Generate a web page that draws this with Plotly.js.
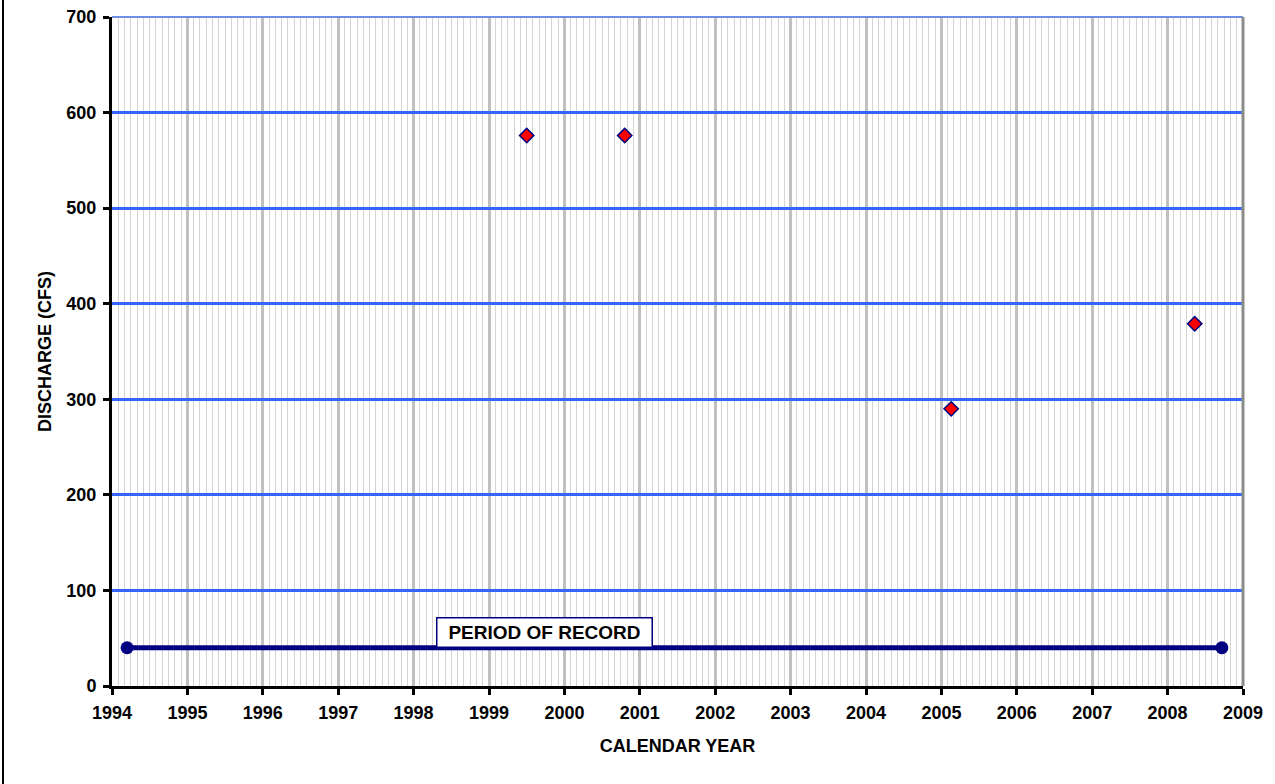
<!DOCTYPE html>
<html>
<head>
<meta charset="utf-8">
<script src="https://cdn.plot.ly/plotly-3.0.1.min.js"></script>
<style>
  html, body { margin: 0; padding: 0; background: #fff; }
  #chart { width: 1275px; height: 784px; }
</style>
</head>
<body>
<div id="chart"></div>
<script>
// Measured discharge samples
const sampleYears = [1999.50, 2000.80, 2005.13, 2008.36];
const discharge = [576, 576, 290, 379];

// Period of record
const periodYears = [1994.2, 2008.72];
const periodLevel = [40, 40];
const periodLabel = 'PERIOD OF RECORD';
const periodLabelPos = [1999.74, 55.5];

// Axes
const xRange = [1994, 2009];
const yRange = [0, 700];
const xTitle = 'CALENDAR YEAR';
const yTitle = 'DISCHARGE (CFS)';

const font = 'Arial, "Liberation Sans", sans-serif';

const traces = [
  {
    x: periodYears, y: periodLevel,
    mode: 'lines+markers', type: 'scatter',
    line: { color: '#000080', width: 5 },
    marker: { color: '#000080', size: 13, symbol: 'circle' },
    hoverinfo: 'skip', cliponaxis: false
  },
  {
    x: sampleYears, y: discharge,
    mode: 'markers', type: 'scatter',
    marker: { color: '#ff0000', size: 11, symbol: 'diamond',
              line: { color: '#000080', width: 1.5 } },
    cliponaxis: false
  }
];

const plotL = 112, plotR = 1243, plotT = 17, plotB = 686;
const pw = plotR - plotL, ph = plotB - plotT;

const layout = {
  width: 1275, height: 784,
  margin: { l: plotL, r: 1275 - plotR, t: plotT, b: 784 - plotB },
  paper_bgcolor: '#ffffff', plot_bgcolor: '#ffffff',
  showlegend: false,
  font: { family: font, color: '#000000' },
  xaxis: {
    range: xRange, dtick: 1, tick0: 1994,
    showgrid: true, gridcolor: '#c0c0c0', gridwidth: 3,
    minor: { dtick: 1 / 12, showgrid: true, gridcolor: '#d4d4d4', gridwidth: 1, ticks: '' },
    showline: true, linecolor: '#000000', linewidth: 3,
    ticks: 'outside', ticklen: 6, tickwidth: 3, tickcolor: '#000000',
    tickfont: { family: font, size: 18, color: '#000000', weight: 'bold' },
    ticklabelstandoff: 2,
    zeroline: false,
    title: { text: xTitle, font: { family: font, size: 18, weight: 'bold' }, standoff: 18 }
  },
  yaxis: {
    range: yRange, dtick: 100, tick0: 0,
    showgrid: true, gridcolor: '#3366ff', gridwidth: 3,
    showline: true, linecolor: '#000000', linewidth: 3,
    ticks: 'outside', ticklen: 6, tickwidth: 3, tickcolor: '#000000',
    tickfont: { family: font, size: 18, color: '#000000', weight: 'bold' },
    ticklabelstandoff: 3,
    zeroline: false,
    title: { text: yTitle, font: { family: font, size: 18, weight: 'bold' }, standoff: 11 }
  },
  shapes: [
    { type: 'line', xref: 'paper', yref: 'paper', x0: 0, x1: 1, y0: 1, y1: 1,
      line: { color: '#6f8fe6', width: 2 } },
    { type: 'line', xref: 'paper', yref: 'paper', x0: 1, x1: 1, y0: 0, y1: 1,
      line: { color: '#8c8c8c', width: 3 } },
    { type: 'line', xref: 'paper', yref: 'paper',
      x0: (3 - plotL) / pw, x1: (3 - plotL) / pw,
      y0: -(784 - plotB) / ph, y1: 1 + plotT / ph,
      line: { color: '#000000', width: 2 } }
  ],
  annotations: [
    { x: periodLabelPos[0], y: periodLabelPos[1], xref: 'x', yref: 'y',
      text: '<b>' + periodLabel + '</b>', showarrow: false,
      font: { family: font, size: 19, color: '#000000' },
      bgcolor: '#ffffff', bordercolor: '#000080', borderwidth: 1.5,
      width: 214, height: 28, borderpad: 0, xanchor: 'center', yanchor: 'middle' }
  ]
};

Plotly.newPlot('chart', traces, layout, { displayModeBar: false, staticPlot: true });
</script>
</body>
</html>
